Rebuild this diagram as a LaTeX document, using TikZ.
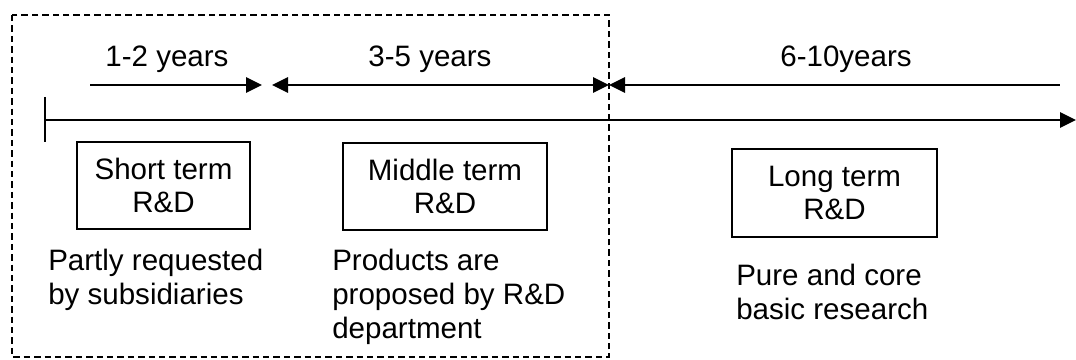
\documentclass[tikz,border=0pt]{standalone}
\usepackage{fontspec}
\setmainfont{Liberation Sans}
\usetikzlibrary{arrows.meta}

\begin{document}
\begin{tikzpicture}[x=0.025cm, y=-0.025cm,
  >={Triangle[length=0.4cm, width=0.38cm]},
  every node/.style={font=\fontsize{21}{24}\selectfont},
  span/.style={line width=1.5pt, black},
  termbox/.style={draw, line width=1.5pt, align=center, minimum height=2.18cm, inner sep=0pt},
  remark/.style={align=left, anchor=west, inner sep=0pt}]

\useasboundingbox (0,0) rectangle (1076,360);

% dashed frame round the first two periods
\draw[line width=1.4pt, dash pattern=on 0.16cm off 0.1cm] (12,15) rectangle (609,357);

% time axis
\coordinate (O) at (45,120);
\coordinate (E) at (1076,120);
\coordinate (Otop) at (45,97);
\coordinate (Obot) at (45,142);
\draw[span, ->] (O) -- (E);
\draw[span] (Otop) -- (Obot);

% periods
\coordinate (P1) at (90,85);
\coordinate (P2) at (262,85);
\coordinate (P3) at (272,85);
\coordinate (P4) at (609,85);
\coordinate (P5) at (1060,85);
\draw[span, ->] (P1) -- (P2);
\draw[span, <->] (P3) -- (P4);
\draw[span, <-] (P4) -- (P5);

\node[anchor=base] (y12) at (167,67) {1-2 years};
\node[anchor=base] (y35) at (430,67) {3-5 years};
\node[anchor=base] (y610) at (846,67) {6-10years};

% R&D boxes
\node[termbox, minimum width=4.33cm] (short) at (163.5,185.5) {Short term\\R\&D};
\node[termbox, minimum width=5.1cm] (middle) at (445,186.5) {Middle term\\R\&D};
\node[termbox, minimum width=5.13cm] (long) at (834.5,193) {Long term\\R\&D};

\node[remark] (shortnote) at (48,280) {Partly requested\\by subsidiaries};
\node[remark] (middlenote) at (332,297) {Products are\\proposed by R\&D\\department};
\node[remark] (longnote) at (736,292) {Pure and core\\basic research};

\end{tikzpicture}
\end{document}
